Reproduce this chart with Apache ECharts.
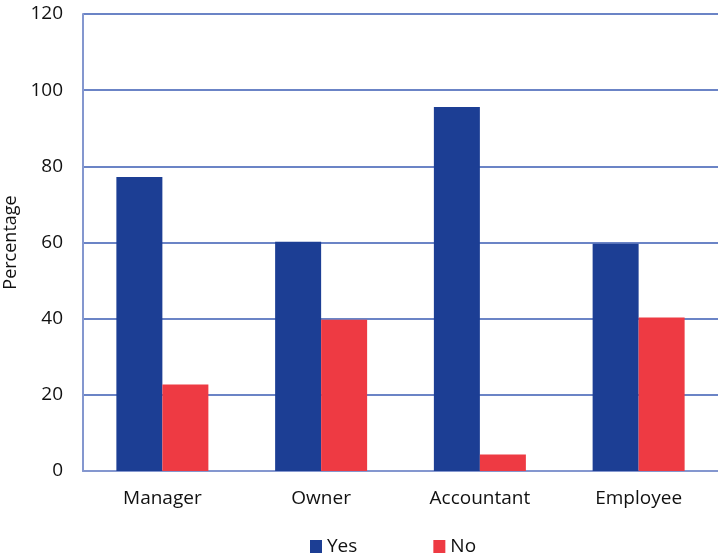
<!DOCTYPE html>
<html>
<head>
<meta charset="utf-8">
<script src="https://cdn.jsdelivr.net/npm/echarts@6/dist/echarts.min.js"></script>
<style>
  html, body { margin: 0; padding: 0; background: #ffffff; }
  #chart { width: 718px; height: 558px; }
</style>
</head>
<body>
<div id="chart"></div>
<script>
// Survey answers by role, in percent
const categories = ['Manager', 'Owner', 'Accountant', 'Employee'];
const yesValues = [77.2, 60.2, 95.6, 59.7];
const noValues = [22.7, 39.7, 4.3, 40.3];
const seriesNames = ['Yes', 'No'];
const yTicks = { min: 0, max: 120, step: 20 };
const yTitle = 'Percentage';

const FONT = '"Open Sans", "Noto Sans", sans-serif';
const chart = echarts.init(document.getElementById('chart'));

chart.setOption({
  animation: false,
  backgroundColor: '#ffffff',
  textStyle: { fontFamily: FONT, color: '#111111' },
  grid: { left: 83, right: 0, top: 14, bottom: 87, containLabel: false, outerBoundsMode: 'none' },
  legend: {
    data: seriesNames,
    top: 532,
    left: 305,
    itemWidth: 12,
    itemHeight: 13,
    itemGap: 76,
    icon: 'rect',
    textStyle: { fontFamily: FONT, fontSize: 19, color: '#111111' }
  },
  xAxis: {
    type: 'category',
    data: categories,
    axisLine: { show: true, lineStyle: { color: '#8497cf', width: 2 } },
    axisTick: { show: false },
    axisLabel: { fontFamily: FONT, fontSize: 19, color: '#111111', margin: 18 }
  },
  yAxis: {
    type: 'value',
    min: yTicks.min,
    max: yTicks.max,
    interval: yTicks.step,
    name: yTitle,
    nameLocation: 'middle',
    nameRotate: 90,
    nameGap: 55,
    nameTextStyle: { fontFamily: FONT, fontSize: 18, color: '#111111' },
    axisLine: { show: true, lineStyle: { color: '#8497cf', width: 2 } },
    axisTick: { show: false },
    axisLabel: { fontFamily: FONT, fontSize: 19, color: '#111111', margin: 20 },
    splitLine: { show: true, lineStyle: { color: '#3a5bb3', width: 1.5 } }
  },
  series: [
    {
      name: seriesNames[0],
      type: 'bar',
      data: yesValues,
      barWidth: 46,
      barGap: '0%',
      itemStyle: { color: '#1c3e94' }
    },
    {
      name: seriesNames[1],
      type: 'bar',
      data: noValues,
      barWidth: 46,
      barGap: '0%',
      itemStyle: { color: '#ee3a43' }
    }
  ]
});
</script>
</body>
</html>
